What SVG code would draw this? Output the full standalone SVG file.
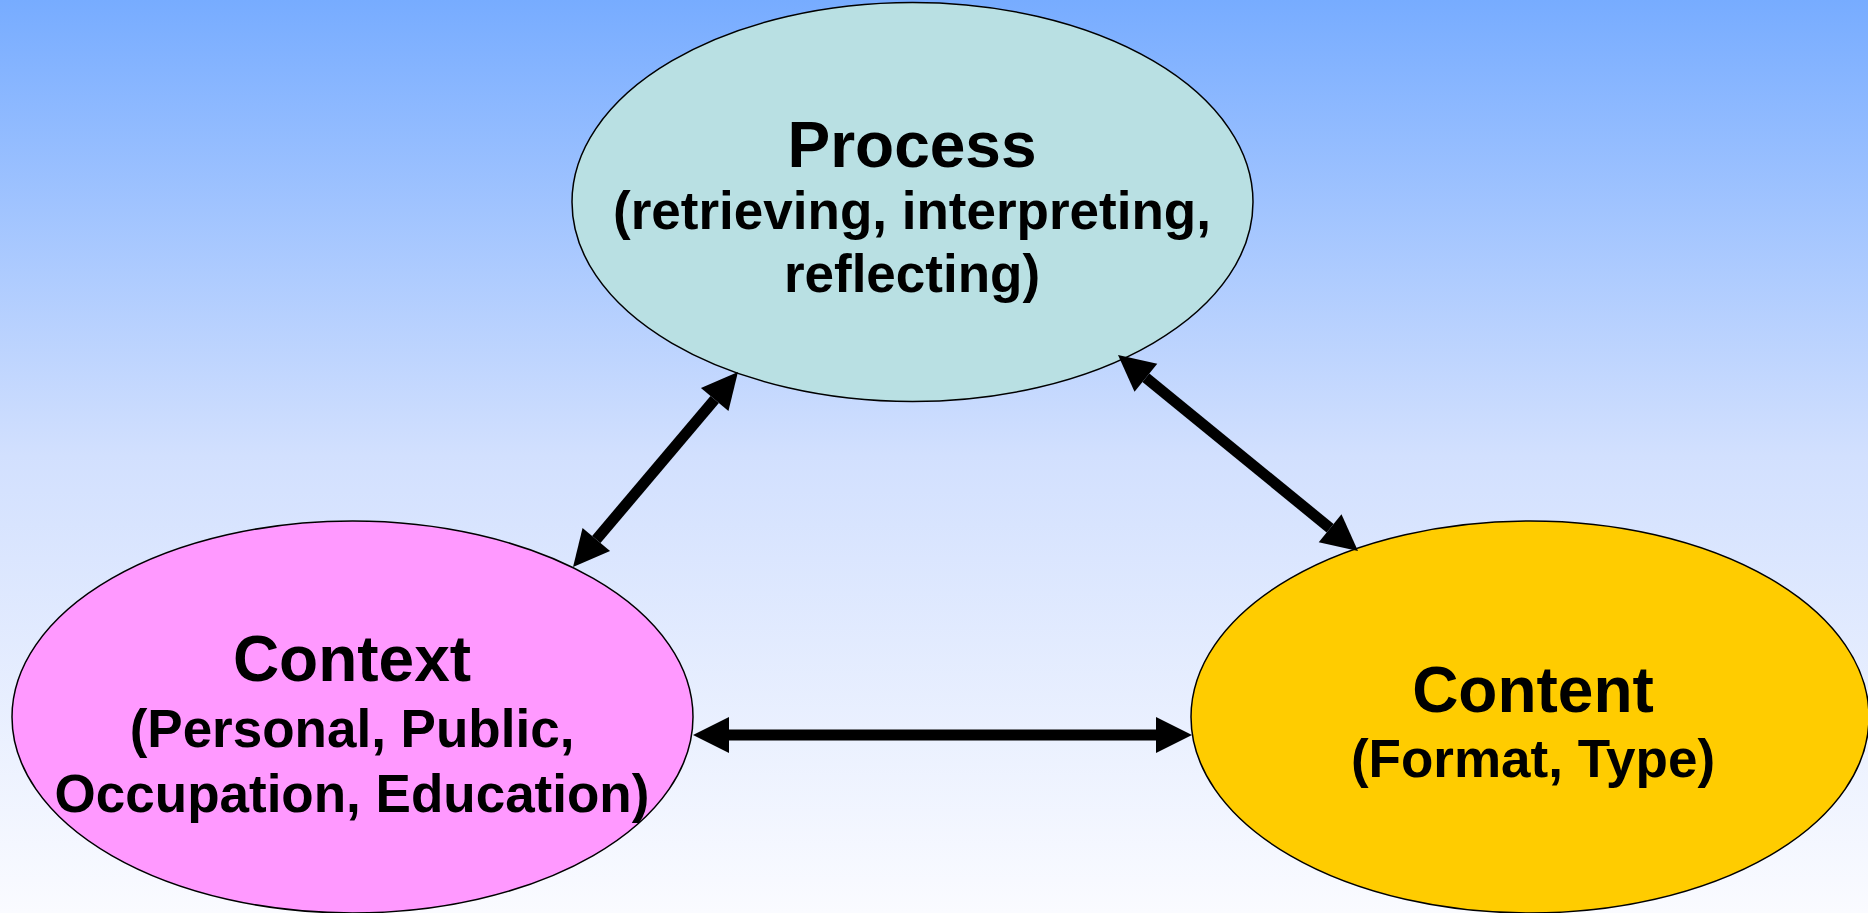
<svg xmlns="http://www.w3.org/2000/svg" width="1868" height="913" viewBox="0 0 1868 913">
  <style>
    .node { stroke: #000; stroke-width: 1.5; }
    .title { font-family: "Liberation Sans", Arial, sans-serif; font-weight: bold; font-size: 64px; fill: #000; text-anchor: middle; }
    .sub { font-family: "Liberation Sans", Arial, sans-serif; font-weight: bold; font-size: 53px; fill: #000; text-anchor: middle; }
    .conn { stroke: #000; stroke-width: 11; fill: none; marker-start: url(#head); marker-end: url(#head); }
  </style>
  <defs>
    <linearGradient id="bg" x1="0" y1="0" x2="0" y2="1">
      <stop offset="0" stop-color="#77acff"/>
      <stop offset="0.5" stop-color="#d2e0fe"/>
      <stop offset="1" stop-color="#fafbff"/>
    </linearGradient>
    <marker id="head" markerUnits="userSpaceOnUse" markerWidth="40" markerHeight="40" viewBox="0 -20 40 40" refX="0" refY="0" orient="auto-start-reverse" overflow="visible">
      <path d="M0,-18 L36,0 L0,18 Z" fill="#000"/>
    </marker>
  </defs>
  <rect x="0" y="0" width="1868" height="913" fill="url(#bg)"/>

  <g id="process">
    <ellipse class="node" cx="912.5" cy="202" rx="340.5" ry="199.5" fill="#b9e0e3"/>
    <text class="title" x="912" y="167">Process</text>
    <text class="sub" x="912" y="229">(retrieving, interpreting,</text>
    <text class="sub" x="912" y="292">reflecting)</text>
  </g>

  <g id="context">
    <ellipse class="node" cx="352.5" cy="717" rx="340.5" ry="196" fill="#ff99ff"/>
    <text class="title" x="352" y="681">Context</text>
    <text class="sub" x="352" y="747">(Personal, Public,</text>
    <text class="sub" x="352" y="812">Occupation, Education)</text>
  </g>

  <g id="content">
    <ellipse class="node" cx="1530" cy="717" rx="339" ry="196" fill="#ffcc00"/>
    <text class="title" x="1533" y="712">Content</text>
    <text class="sub" x="1533" y="777">(Format, Type)</text>
  </g>

  <g id="connectors">
    <line class="conn" x1="714.7" y1="399.5" x2="596.3" y2="539.5"/>
    <line class="conn" x1="1145.9" y1="377.8" x2="1330.1" y2="528.2"/>
    <line class="conn" x1="729" y1="735" x2="1156" y2="735"/>
  </g>
</svg>
